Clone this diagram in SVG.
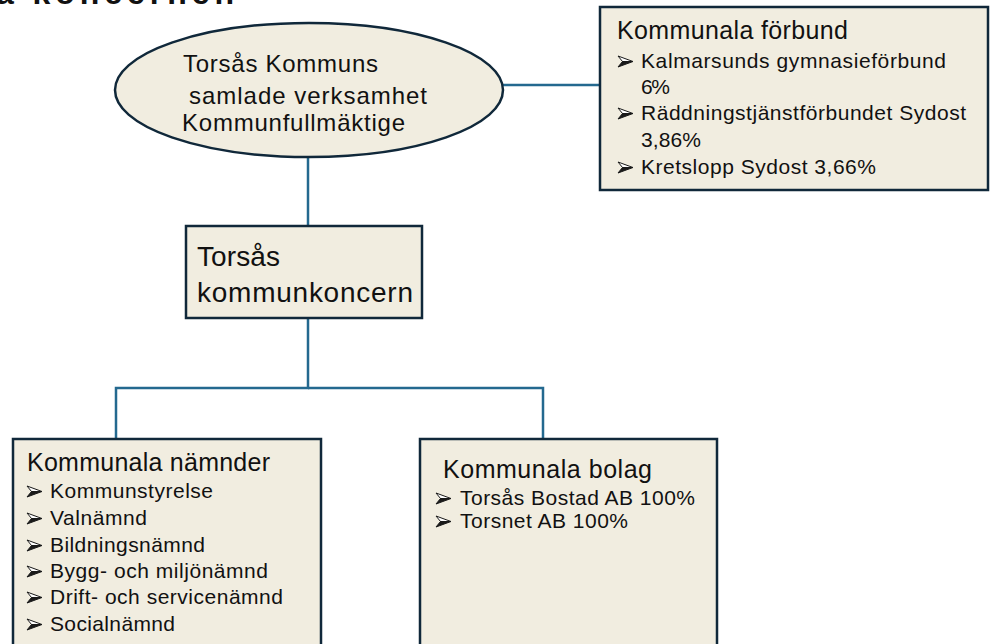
<svg xmlns="http://www.w3.org/2000/svg" width="990" height="644" viewBox="0 0 990 644">
  <style>
    .node { fill: #F1EDE0; stroke: #10283A; stroke-width: 2.5; }
    .conn { fill: none; stroke: #24698F; stroke-width: 2.5; }
    text { font-family: "Liberation Sans", Arial, sans-serif; fill: #111; }
    .h { font-size: 25px; }
    .i { font-size: 21px; }
    .big { font-size: 28px; }
    .ell { font-size: 24px; }
    .title { font-size: 32px; font-weight: bold; }
  </style>
  <defs>
    <g id="bullet">
      <polygon points="0,0 15,5.5 4.5,5.5" fill="#ffffff" stroke="#1a1a1a" stroke-width="1" stroke-linejoin="round"/>
      <polygon points="0,11 15,5.5 4.5,5.5" fill="#1a1a1a" stroke="#1a1a1a" stroke-width="1" stroke-linejoin="round"/>
    </g>
  </defs>
  <rect width="990" height="644" fill="#ffffff"/>

  <text class="title" x="-4" y="4" textLength="238" lengthAdjust="spacing">a koncernen</text>

  <g id="connectors">
    <line class="conn" x1="308" y1="157" x2="308" y2="226"/>
    <line class="conn" x1="503" y1="85" x2="600" y2="85"/>
    <polyline class="conn" points="308,318 308,388 116,388 116,439"/>
    <polyline class="conn" points="308,388 543,388 543,439"/>
  </g>

  <g id="fullmaktige">
    <ellipse class="node" cx="309" cy="90" rx="194" ry="67"/>
    <text class="ell" x="183" y="72" textLength="195" lengthAdjust="spacing">Torsås Kommuns</text>
    <text class="ell" x="189" y="104" textLength="238" lengthAdjust="spacing">samlade verksamhet</text>
    <text class="ell" x="182" y="131" textLength="223" lengthAdjust="spacing">Kommunfullmäktige</text>
  </g>

  <g id="forbund">
    <rect class="node" x="600" y="7" width="388" height="183"/>
    <text class="h" x="617" y="39" textLength="231" lengthAdjust="spacing">Kommunala förbund</text>
    <use href="#bullet" x="618" y="56"/>
    <text class="i" x="641" y="68" textLength="305" lengthAdjust="spacing">Kalmarsunds gymnasieförbund</text>
    <text class="i" x="641" y="94" textLength="29" lengthAdjust="spacing">6%</text>
    <use href="#bullet" x="618" y="108"/>
    <text class="i" x="641" y="120" textLength="325" lengthAdjust="spacing">Räddningstjänstförbundet Sydost</text>
    <text class="i" x="641" y="147" textLength="60" lengthAdjust="spacing">3,86%</text>
    <use href="#bullet" x="618" y="162"/>
    <text class="i" x="641" y="174" textLength="235" lengthAdjust="spacing">Kretslopp Sydost 3,66%</text>
  </g>

  <g id="koncern">
    <rect class="node" x="186" y="226" width="236" height="92"/>
    <text class="big" x="197" y="266" textLength="83" lengthAdjust="spacing">Torsås</text>
    <text class="big" x="197" y="302" textLength="216" lengthAdjust="spacing">kommunkoncern</text>
  </g>

  <g id="namnder">
    <rect class="node" x="13" y="439" width="308" height="230"/>
    <text class="h" x="27" y="471" textLength="243" lengthAdjust="spacing">Kommunala nämnder</text>
    <use href="#bullet" x="27" y="486"/>
    <text class="i" x="50" y="498" textLength="163" lengthAdjust="spacing">Kommunstyrelse</text>
    <use href="#bullet" x="27" y="513"/>
    <text class="i" x="50" y="525" textLength="97" lengthAdjust="spacing">Valnämnd</text>
    <use href="#bullet" x="27" y="540"/>
    <text class="i" x="50" y="552" textLength="155" lengthAdjust="spacing">Bildningsnämnd</text>
    <use href="#bullet" x="27" y="566"/>
    <text class="i" x="50" y="578" textLength="218" lengthAdjust="spacing">Bygg- och miljönämnd</text>
    <use href="#bullet" x="27" y="592"/>
    <text class="i" x="50" y="604" textLength="233" lengthAdjust="spacing">Drift- och servicenämnd</text>
    <use href="#bullet" x="27" y="619"/>
    <text class="i" x="50" y="631" textLength="125" lengthAdjust="spacing">Socialnämnd</text>
  </g>

  <g id="bolag">
    <rect class="node" x="420" y="439" width="297" height="230"/>
    <text class="h" x="443" y="478" textLength="209" lengthAdjust="spacing">Kommunala bolag</text>
    <use href="#bullet" x="436" y="493"/>
    <text class="i" x="460" y="505" textLength="235" lengthAdjust="spacing">Torsås Bostad AB 100%</text>
    <use href="#bullet" x="436" y="516"/>
    <text class="i" x="460" y="528" textLength="168" lengthAdjust="spacing">Torsnet AB 100%</text>
  </g>
</svg>
